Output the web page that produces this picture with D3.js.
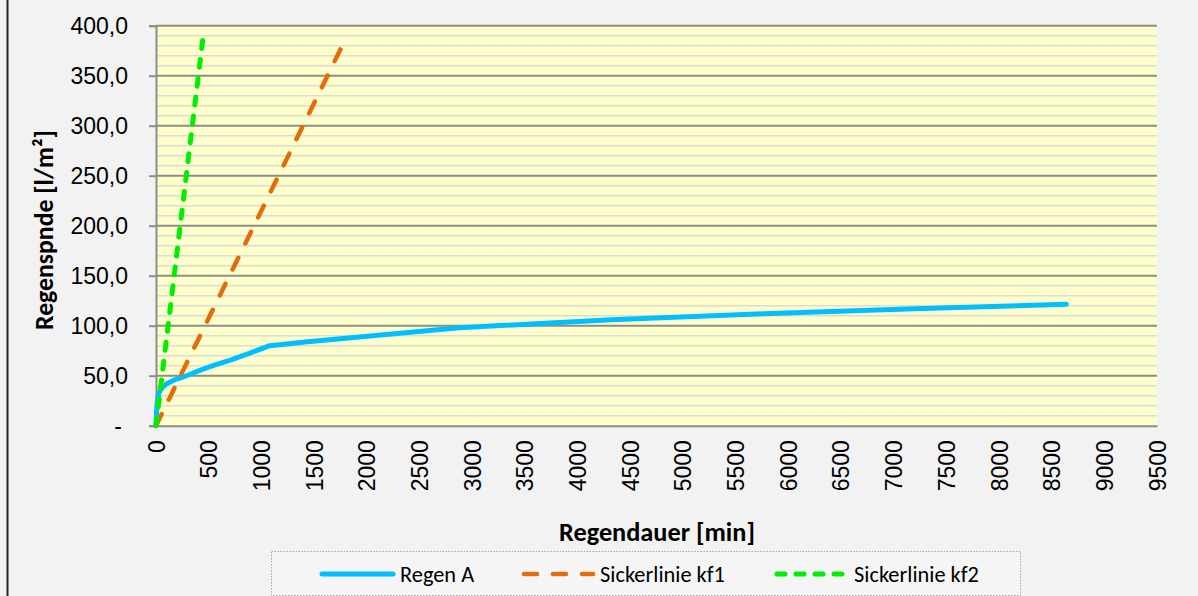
<!DOCTYPE html>
<html><head><meta charset="utf-8">
<script src="https://cdn.jsdelivr.net/npm/d3@7"></script>
<style>html,body{margin:0;padding:0;background:#f2f2f2;} svg{display:block}</style>
</head><body>
<svg id="c" width="1198" height="596"></svg>
<script>
// ---- data ----
const regenT = [0, 5, 10, 15, 20, 30, 45, 60, 90, 120, 180, 240, 360, 540, 720, 1080, 1440, 2880, 4320, 5760, 7200, 8640];
const regenV = [0, 13, 21, 26, 29, 33, 36, 38, 41, 43, 46, 48, 53, 60, 66, 80, 84, 98, 106, 112, 117, 121.5];
const kf1T = [0, 1800];
const kf1V = [0, 387];
const kf2T = [0, 455];
const kf2V = [0, 396];
const xTickValues = [0, 500, 1000, 1500, 2000, 2500, 3000, 3500, 4000, 4500, 5000, 5500, 6000, 6500, 7000, 7500, 8000, 8500, 9000, 9500];
const yTickValues = [0, 50, 100, 150, 200, 250, 300, 350, 400];
const seriesNames = ["Regen A", "Sickerlinie kf1", "Sickerlinie kf2"];
const xTitle = "Regendauer [min]";
const yTitle = "Regenspnde [l/m²]";

// ---- layout ----
const svg = d3.select("#c");
const L = 156, R = 1157, T = 25.7, B = 425.7;
const x = d3.scaleLinear().domain([0, 9500]).range([L, R]);
const y = d3.scaleLinear().domain([0, 400]).range([B, T]);
const calibri = "Carlito, Calibri, Lato, 'Open Sans', sans-serif";
const arial = "'Liberation Sans', Arial, sans-serif";

function fit(sel, target) {
  const len = sel.node().getComputedTextLength();
  const fs = parseFloat(sel.style("font-size"));
  sel.style("font-size", (fs * target / len) + "px");
}

// outer left border
svg.append("line").attr("x1", 7.5).attr("x2", 7.5).attr("y1", 0).attr("y2", 596)
  .attr("stroke", "#262626").attr("stroke-width", 2);

// plot background
svg.append("rect").attr("x", L).attr("y", T).attr("width", R - L).attr("height", B - T)
  .attr("fill", "#ffffcc");

// minor grid
const minor = d3.range(10, 400, 10).filter(v => v % 50 !== 0);
svg.append("g").selectAll("line").data(minor).join("line")
  .attr("x1", L).attr("x2", R).attr("y1", d => y(d)).attr("y2", d => y(d))
  .attr("stroke", "#dcdcd6").attr("stroke-width", 1.5);
// major grid
svg.append("g").selectAll("line").data(yTickValues.filter(v => v > 0)).join("line")
  .attr("x1", L).attr("x2", R).attr("y1", d => y(d)).attr("y2", d => y(d))
  .attr("stroke", "#8c8c8c").attr("stroke-width", 2);

// y axis
const yAxis = svg.append("g").attr("transform", `translate(${L},0)`)
  .call(d3.axisLeft(y).tickValues(yTickValues).tickSize(7).tickPadding(21)
    .tickFormat(d => d === 0 ? "-" : d.toFixed(1).replace(".", ",")));
yAxis.select(".domain").attr("stroke", "#8c8c8c").attr("stroke-width", 2);
yAxis.selectAll(".tick line").attr("stroke", "#8c8c8c").attr("stroke-width", 2);
yAxis.selectAll(".tick text").style("font-family", arial).style("font-size", "23px").attr("fill", "#000")
  .attr("dx", d => d === 0 ? -6 : 0);

// x axis
const xAxis = svg.append("g").attr("transform", `translate(0,${B})`)
  .call(d3.axisBottom(x).tickValues(xTickValues).tickSize(0).tickFormat(d => String(d)));
xAxis.select(".domain").attr("stroke", "#8c8c8c").attr("stroke-width", 2);
xAxis.selectAll(".tick text").style("font-family", arial).style("font-size", "23px").attr("fill", "#000")
  .attr("transform", "rotate(-90)").attr("x", -14.5).attr("y", 0).attr("dy", "0.35em")
  .style("text-anchor", "end");

// lines
const line = d3.line().x(d => x(d[0])).y(d => y(d[1]));
const regen = regenT.map((t, i) => [t, regenV[i]]);
const kf1 = kf1T.map((t, i) => [t, kf1V[i]]);
const kf2 = kf2T.map((t, i) => [t, kf2V[i]]);
const styles = [
  {color: "#00bfff", width: 5, dash: null},
  {color: "#e46c0a", width: 4.5, dash: "13,16"},
  {color: "#00ee00", width: 5, dash: "8,11"}
];
[regen, kf1, kf2].forEach((data, i) => {
  const s = styles[i];
  const p = svg.append("path").datum(data).attr("d", line)
    .attr("fill", "none").attr("stroke", s.color).attr("stroke-width", s.width)
    .attr("stroke-linejoin", "round").attr("stroke-linecap", "round");
  if (s.dash) p.attr("stroke-dasharray", s.dash);
});

// axis titles
const yt = svg.append("text").text(yTitle)
  .attr("transform", "translate(53,230) rotate(-90)")
  .attr("text-anchor", "middle").style("font-family", calibri).style("font-weight", "bold")
  .style("font-size", "24px").attr("fill", "#000");
fit(yt, 200);
const xt = svg.append("text").text(xTitle)
  .attr("x", 657).attr("y", 541)
  .attr("text-anchor", "middle").style("font-family", calibri).style("font-weight", "bold")
  .style("font-size", "24px").attr("fill", "#000");
fit(xt, 196);

// legend
svg.append("rect").attr("x", 271.5).attr("y", 551.5).attr("width", 749).attr("height", 44)
  .attr("fill", "#f5f5f5").attr("stroke", "#a6a6a6").attr("stroke-width", 1)
  .attr("stroke-dasharray", "1.5,1.5");
const legX = [322, 524, 777];
const legLen = [71, 69, 69];
const legY = 574;
seriesNames.forEach((name, i) => {
  const s = styles[i];
  const l = svg.append("line").attr("x1", legX[i]).attr("x2", legX[i] + legLen[i])
    .attr("y1", legY).attr("y2", legY)
    .attr("stroke", s.color).attr("stroke-width", s.width).attr("stroke-linecap", "round");
  if (s.dash) l.attr("stroke-dasharray", s.dash);
});
const legText = svg.append("g");
const tx = [400, 600, 854];
const lt = seriesNames.map((name, i) => legText.append("text").text(name)
  .attr("x", tx[i]).attr("y", legY).attr("dy", "0.35em")
  .style("font-family", calibri).style("font-size", "22px").attr("fill", "#000"));
// fit font size on the second label
const len1 = lt[1].node().getComputedTextLength();
const fsL = 22 * 125 / len1;
lt.forEach(t => t.style("font-size", fsL + "px"));
</script>
</body></html>
